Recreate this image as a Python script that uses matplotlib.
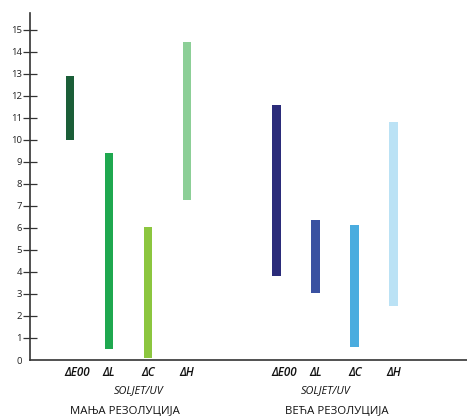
import matplotlib
matplotlib.use("Agg")
import matplotlib.pyplot as plt
from matplotlib.transforms import blended_transform_factory

# Data
metrics = ["ΔE00", "ΔL", "ΔC", "ΔH"]
groups = ["МАЊА РЕЗОЛУЦИЈА", "ВЕЋА РЕЗОЛУЦИЈА"]
subtitle = "SOLJET/UV"
low_res_min = [10.0, 0.5, 0.1, 7.25]
low_res_max = [12.9, 9.4, 6.05, 14.45]
high_res_min = [3.8, 3.05, 0.6, 2.45]
high_res_max = [11.6, 6.35, 6.15, 10.8]
y_ticks = list(range(0, 16))

low_colors = ["#1b5e38", "#1fa84f", "#8cc63f", "#8ccf97"]
high_colors = ["#2b2c7a", "#3a51a1", "#4aacdf", "#bbe2f5"]

plt.rcParams["font.family"] = ["Open Sans", "DejaVu Sans"]

fig = plt.figure(figsize=(4.67, 4.18), dpi=100)
ax = fig.add_axes([30 / 467, 58 / 418, 437 / 467, 347 / 418])

group_offset = 5.3
width = 0.23
for g, (mins, maxs, cols) in enumerate([(low_res_min, low_res_max, low_colors),
                                        (high_res_min, high_res_max, high_colors)]):
    xs = [g * group_offset + i for i in range(len(metrics))]
    ax.bar(xs, [hi - lo for lo, hi in zip(mins, maxs)], bottom=mins,
           width=width, color=cols, linewidth=0)

ax.set_xlim(-1.026, 10.18)
ax.set_ylim(0, 15.77)

ax.set_yticks(y_ticks)
ax.set_yticklabels([str(t) for t in y_ticks], fontsize=6.8, color="#222222")
ax.tick_params(axis="y", direction="inout", length=9.5, width=0.9,
               color="#333333", pad=1)
ax.yaxis.get_major_ticks()[0].tick1line.set_visible(False)
ax.set_xticks([])

for s in ["top", "right"]:
    ax.spines[s].set_visible(False)
for s in ["left", "bottom"]:
    ax.spines[s].set_color("#333333")
    ax.spines[s].set_linewidth(1.2)

trans = blended_transform_factory(ax.transData, fig.transFigure)
for g, gname in enumerate(groups):
    for i, m in enumerate(metrics):
        x = g * group_offset + i
        if i == 0:
            x += 0.18
        ax.text(x, 1 - 373 / 418, m, transform=trans, ha="center", va="center",
                fontsize=8.4, style="italic", fontweight="semibold", color="#111111")
    center = g * group_offset + 1.5
    ax.text(center + (0.27 if g == 0 else -0.25), 1 - 391 / 418, subtitle,
            transform=trans, ha="center", va="center", fontsize=7.8,
            style="italic", color="#111111")
    ax.text(center + (-0.1 if g == 0 else 0.05), 1 - 411 / 418, gname,
            transform=trans, ha="center", va="center", fontsize=8.2,
            color="#111111")

fig.savefig("out.png", dpi=100)
